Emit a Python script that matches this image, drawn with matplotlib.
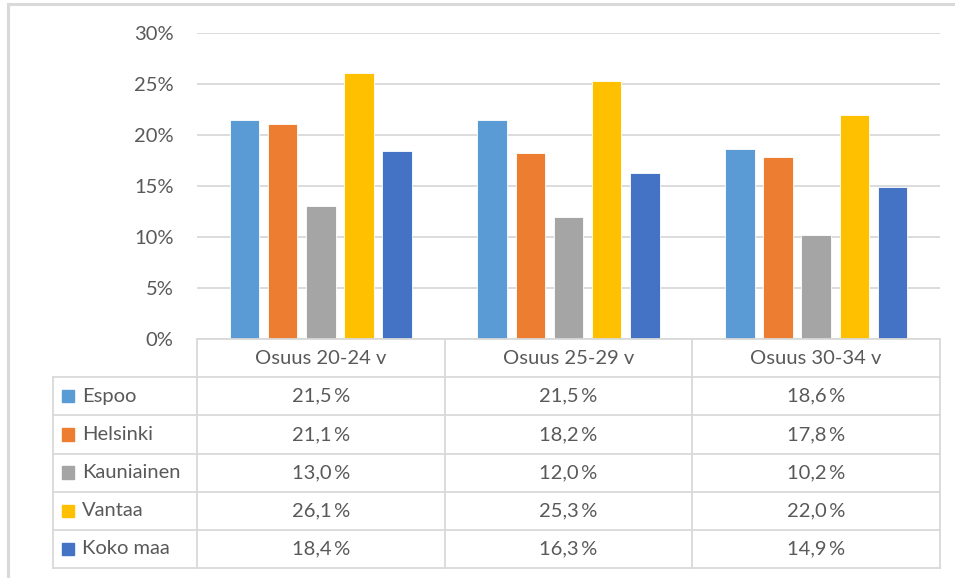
import matplotlib.pyplot as plt
import matplotlib.patches as mpatches
from matplotlib.lines import Line2D

plt.rcParams['font.family'] = ['Lato', 'DejaVu Sans']

groups = ['Osuus 20-24 v', 'Osuus 25-29 v', 'Osuus 30-34 v']
cities = ['Espoo', 'Helsinki', 'Kauniainen', 'Vantaa', 'Koko maa']
espoo = [21.5, 21.5, 18.6]
helsinki = [21.1, 18.2, 17.8]
kauniainen = [13.0, 12.0, 10.2]
vantaa = [26.1, 25.3, 22.0]
koko_maa = [18.4, 16.3, 14.9]
series = [espoo, helsinki, kauniainen, vantaa, koko_maa]
colors = ['#5B9BD5', '#ED7D31', '#A5A5A5', '#FFC000', '#4472C4']

W, H = 955, 578
txt = '#595959'
grid = '#d9d9d9'
fs = 14.5

fig = plt.figure(figsize=(W / 100, H / 100), dpi=100)

# outer chart frame (cropped on right/bottom)
fig.add_artist(Line2D([8 / W, 8 / W], [0, 1 - 4 / H], color='#d9d9d9', lw=2.2))
fig.add_artist(Line2D([8 / W, 1], [1 - 4 / H, 1 - 4 / H], color='#d9d9d9', lw=2.2))

# plot area
x0, x1 = 197, 940
y_top, y_zero = 33, 339
ax = fig.add_axes([x0 / W, 1 - y_zero / H, (x1 - x0) / W, (y_zero - y_top) / H])
ax.set_xlim(-0.5, 2.5)
ax.set_ylim(0, 30)
step = 38.2 / 247.7
bw = 29.5 / 247.7
for i, (vals, c) in enumerate(zip(series, colors)):
    xs = [g + (i - 2) * step for g in range(len(groups))]
    ax.bar(xs, vals, width=bw, color=c, edgecolor='white', linewidth=0.6, zorder=3)
ax.set_yticks([0, 5, 10, 15, 20, 25, 30])
ax.set_yticklabels(['%d%%' % v for v in [0, 5, 10, 15, 20, 25, 30]])
ax.yaxis.grid(True, color=grid, lw=1.3)
ax.set_axisbelow(True)
ax.set_xticks([])
ax.tick_params(axis='y', length=0, pad=17, labelsize=fs, labelcolor=txt)
for s in ax.spines.values():
    s.set_visible(False)

# data table below, sharing the group x scale
lab_w = (197 - 53) / 247.7
y_bot = 568
tax = fig.add_axes([53 / W, 1 - y_bot / H, (x1 - 53) / W, (y_bot - y_zero) / H])
tax.set_xlim(-0.5 - lab_w, 2.5)
tax.set_ylim(len(cities) + 1, 0)
tax.axis('off')
lk = dict(color=grid, lw=1.3, clip_on=False)
nrow = len(cities) + 1
# horizontal lines
tax.plot([-0.5, 2.5], [0, 0], **lk)
for r in range(1, nrow + 1):
    tax.plot([-0.5 - lab_w, 2.5], [r, r], **lk)
# vertical lines
tax.plot([-0.5 - lab_w, -0.5 - lab_w], [1, nrow], **lk)
for g in range(len(groups) + 1):
    tax.plot([g - 0.5, g - 0.5], [0, nrow], **lk)

for g, name in enumerate(groups):
    tax.text(g, 0.5, name, ha='center', va='center', fontsize=fs, color=txt)
for r, (city, vals, c) in enumerate(zip(cities, series, colors)):
    yy = r + 1.5
    sq_x = -0.5 - lab_w + 9 / 247.7
    sq_w = 12 / 247.7
    tax.add_patch(mpatches.Rectangle((sq_x, yy - 0.16), sq_w, 0.32, color=c, clip_on=False))
    tax.text(-0.5 - lab_w + 29 / 247.7, yy, city, ha='left', va='center',
             fontsize=fs, color=txt)
    for g, v in enumerate(vals):
        tax.text(g, yy, ('%.1f' % v).replace('.', ',') + '\u2009%', ha='center',
                 va='center', fontsize=fs, color=txt)

fig.savefig('out.png', dpi=100)
